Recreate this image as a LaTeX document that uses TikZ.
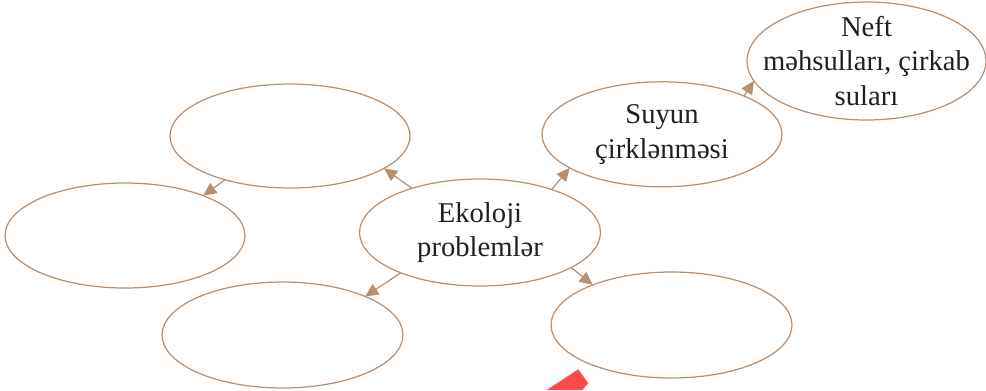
\documentclass[tikz,border=0pt]{standalone}
\usepackage{fontspec}
\setmainfont{Liberation Serif}
\usetikzlibrary{shapes.geometric,arrows.meta}
\definecolor{brn}{RGB}{184,144,112}
\definecolor{txtc}{RGB}{35,31,32}
\definecolor{redm}{RGB}{255,74,74}
\begin{document}
\begin{tikzpicture}[x=0.02cm,y=-0.02cm,
 bubble/.style={ellipse,draw=brn,line width=0.7pt,inner sep=0pt,outer sep=0pt},
 lbl/.style={align=center,text=txtc,font=\fontsize{16.3}{19.8}\selectfont,inner sep=0pt},
 arr/.style={draw=brn,line width=0.7pt,-{Triangle[length=7.5pt,width=7pt]}}]
\useasboundingbox (0,0) rectangle (986,390);
\node[bubble,minimum width=4.8cm,minimum height=2.08cm] (tl) at (290,136) {};
\node[bubble,minimum width=4.8cm,minimum height=2.1cm] (l) at (125,235.5) {};
\node[bubble,minimum width=4.82cm,minimum height=2.12cm] (bl) at (282.5,335) {};
\node[bubble,minimum width=4.82cm,minimum height=2.14cm] (c) at (480,232.5) {};
\node[bubble,minimum width=4.8cm,minimum height=2.1cm] (s) at (662,134.3) {};
\node[bubble,minimum width=4.82cm,minimum height=2.12cm] (br) at (671.5,325) {};
\node[bubble,minimum width=4.78cm,minimum height=2.36cm] (n) at (866.5,61) {};
\node[lbl] (ct) at (c) {Ekoloji\\problemlər};
\node[lbl] (st) at (s) {Suyun\\çirklənməsi};
\node[lbl] (nt) at (n) {Neft\\məhsulları, çirkab\\suları};
\draw[arr] (c.147.5) -- (tl.-19.3);
\draw[arr] (c.31.1) -- (s.200.1);
\draw[arr] (c.207.5) -- (bl.25);
\draw[arr] (c.-21.5) -- (br.153.4);
\draw[arr] (tl.214.1) -- (l.27.4);
\draw[arr] (s.25.9) -- (n.190.3);
\fill[redm] (546.7,390) -- (578.3,369.3) -- (588.3,383.3) -- (582.3,390) -- cycle;
\end{tikzpicture}
\end{document}
